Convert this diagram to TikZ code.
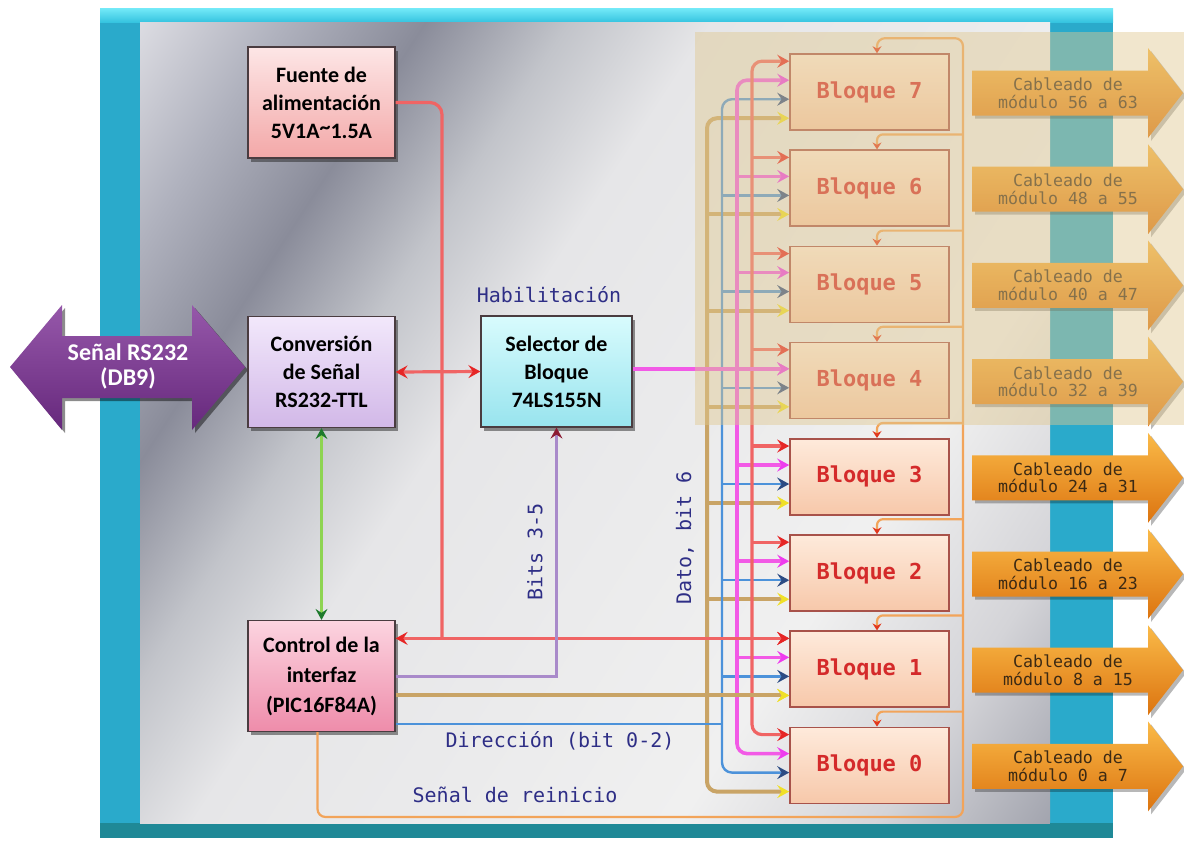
\documentclass[tikz,border=0pt]{standalone}
\usepackage{fontspec}
\setmainfont{Carlito}
\newfontfamily\codefont{DejaVu Sans Mono}
\usetikzlibrary{arrows.meta,calc,shadows}

% frame and panel
\definecolor{frameBlue}{HTML}{2AAACB}
\definecolor{frameTopA}{HTML}{74EAF8}
\definecolor{frameTopB}{HTML}{36C4E0}
\definecolor{frameLow}{HTML}{1F8997}
\definecolor{pnlA}{HTML}{DCDCE2}
\definecolor{pnlB}{HTML}{B0B2BE}
\definecolor{pnlC}{HTML}{8A8C9A}
\definecolor{pnlD}{HTML}{C2C4CA}
\definecolor{pnlE}{HTML}{E6E6E8}
\definecolor{pnlF}{HTML}{F0F0F0}
\definecolor{pnlG}{HTML}{D4D4D8}
\definecolor{pnlH}{HTML}{A2A4AE}
\definecolor{veil}{HTML}{E0C890}
% boxes
\definecolor{edgeDark}{HTML}{4A3C40}
\definecolor{fuA}{HTML}{FDE6E6}
\definecolor{fuB}{HTML}{F3A8A8}
\definecolor{cvA}{HTML}{F2E8FB}
\definecolor{cvB}{HTML}{D2B8E8}
\definecolor{slA}{HTML}{D8FBFD}
\definecolor{slB}{HTML}{98E4EE}
\definecolor{ctA}{HTML}{FCD4E0}
\definecolor{ctB}{HTML}{EE8CAA}
\definecolor{rsA}{HTML}{9658AA}
\definecolor{rsB}{HTML}{66287C}
\definecolor{blkA}{HTML}{FEEADB}
\definecolor{blkB}{HTML}{F7C8AA}
\definecolor{blkEdge}{HTML}{A8524A}
\definecolor{blkInk}{HTML}{D42A2A}
\definecolor{cabA}{HTML}{FABA48}
\definecolor{cabM}{HTML}{F49420}
\definecolor{cabB}{HTML}{DC7410}
\definecolor{cabInk}{HTML}{3C2A14}
\definecolor{lblInk}{HTML}{2E2E86}
% wires and heads
\definecolor{wRed}{HTML}{F06464}
\definecolor{hRed}{HTML}{E62626}
\definecolor{wPink}{HTML}{F25AE6}
\definecolor{hPink}{HTML}{EE3CEE}
\definecolor{wBlue}{HTML}{4C92DA}
\definecolor{hBlue}{HTML}{2C4C84}
\definecolor{wTan}{HTML}{C9A466}
\definecolor{hYel}{HTML}{F0E028}
\definecolor{wPur}{HTML}{A98ACA}
\definecolor{hPur}{HTML}{8C1C34}
\definecolor{wGrn}{HTML}{8ED452}
\definecolor{hGrn}{HTML}{1E7A2C}
\definecolor{wOrg}{HTML}{F2A45A}
\definecolor{hOrg}{HTML}{E2381E}

\pgfdeclarehorizontalshading{panelshade}{100bp}{%
  color(0bp)=(pnlA); color(25bp)=(pnlA); color(30bp)=(pnlB); color(35bp)=(pnlC);
  color(40bp)=(pnlD); color(45bp)=(pnlE); color(62bp)=(pnlF); color(69bp)=(pnlG);
  color(75bp)=(pnlH); color(100bp)=(pnlH)}

\tikzset{
  headR/.tip={Stealth[length=6pt,width=6.5pt,inset=2.2pt,color=hRed]},
  headP/.tip={Stealth[length=6pt,width=6.5pt,inset=2.2pt,color=hPink]},
  headB/.tip={Stealth[length=6pt,width=6.5pt,inset=2.2pt,color=hBlue]},
  headY/.tip={Stealth[length=6pt,width=6.5pt,inset=2.2pt,color=hYel]},
  headV/.tip={Stealth[length=5.5pt,width=6pt,inset=2pt,color=hPur]},
  headG/.tip={Stealth[length=5.5pt,width=6pt,inset=2pt,color=hGrn]},
  headO/.tip={Stealth[length=3.5pt,width=4.5pt,inset=1.2pt,color=hOrg]},
  wireR/.style={draw=wRed,line width=1.6pt},
  wireP/.style={draw=wPink,line width=1.8pt},
  wireB/.style={draw=wBlue,line width=1.2pt},
  wireY/.style={draw=wTan,line width=2pt},
  wireV/.style={draw=wPur,line width=1.5pt},
  wireG/.style={draw=wGrn,line width=1.2pt},
  wireO/.style={draw=wOrg,line width=1.1pt},
  mainbox/.style={draw=edgeDark,line width=0.6pt,minimum width=73.5pt,
    minimum height=55.5pt,align=center,inner sep=0pt,
    font=\bfseries\fontsize{11}{14}\selectfont,
    drop shadow={shadow xshift=1.6pt,shadow yshift=-1.8pt,opacity=.5,fill=black!85}},
  blockbox/.style={draw=blkEdge,line width=0.8pt,minimum width=79.5pt,
    minimum height=38pt,inner sep=0pt,top color=blkA,bottom color=blkB,
    text=blkInk,font=\codefont\bfseries\fontsize{11}{13}\selectfont},
  cabtext/.style={align=center,inner sep=0pt,text=cabInk,
    font=\codefont\fontsize{8.3}{8.8}\selectfont},
  lbl/.style={inner sep=0pt,text=lblInk,font=\codefont\fontsize{10}{12}\selectfont},
}

\begin{document}
\begin{tikzpicture}[x=0.5pt,y=-0.5pt]
\useasboundingbox (0,0) rectangle (1184,842);

% outer bevelled frame
\fill[frameBlue] (100,8) rectangle (1113,838);
\shade[top color=frameTopA,bottom color=frameTopB] (100,8) rectangle (1113,22);
\fill[frameLow] (100,823) rectangle (1113,838);

% brushed metal panel
\begin{scope}
  \clip (140,22) rectangle (1050,823);
  \begin{scope}[transform canvas={rotate around={-33:(595,422.5)}}]
    \shade[shading=panelshade] (-5,-277.5) rectangle (1195,1122.5);
  \end{scope}
\end{scope}

% serial port double arrow
\shade[top color=rsA,bottom color=rsB,
  drop shadow={shadow xshift=1.5pt,shadow yshift=-1.5pt,opacity=.45,fill=black}]
  (10,367) -- (62,305) -- (62,336) -- (192,336) -- (192,305) -- (245,367)
  -- (192,430) -- (192,398) -- (62,398) -- (62,430) -- cycle;
\node[inner sep=0pt,align=center,text=white,font=\bfseries\fontsize{12}{12.5}\selectfont]
  (rs) at (128,366) {Señal RS232\\(DB9)};

% main functional boxes
\node[mainbox,top color=fuA,bottom color=fuB] (fu) at (321.5,102.5)
  {Fuente de\\alimentación\\5V1A\raisebox{0.35ex}{\textasciitilde}1.5A};
\node[mainbox,top color=cvA,bottom color=cvB] (conv) at (321.5,372)
  {Conversión\\de Señal\\RS232-TTL};
\node[mainbox,top color=slA,bottom color=slB,minimum width=75.5pt] (sel) at (556.5,371.5)
  {Selector de\\Bloque\\74LS155N};
\node[mainbox,top color=ctA,bottom color=ctB,font=\bfseries\fontsize{11}{15}\selectfont]
  (ctrl) at (321.5,676) {Control de la\\interfaz\\(PIC16F84A)};

% memory blocks and their input points
\foreach \i in {0,...,7}{
  \pgfmathsetmacro\cy{92+(7-\i)*96.2}
  \node[blockbox] (b\i) at (869.5,\cy) {Bloque \i};
  \coordinate (r\i) at ($(b\i.north west)+(0,8)$);
  \coordinate (p\i) at ($(b\i.north west)+(0,27)$);
  \coordinate (q\i) at ($(b\i.north west)+(0,46)$);
  \coordinate (y\i) at ($(b\i.north west)+(0,65)$);
  \coordinate (t\i) at ($(b\i.north)+(7.5,0)$);
  \coordinate (u\i) at ($(t\i)+(0,-15)$);
}

% bus columns
\coordinate (busY) at (707,0);
\coordinate (busB) at (722,0);
\coordinate (busP) at (737,0);
\coordinate (busR) at (752,0);
\coordinate (pwr) at (442,0);
\coordinate (rsx) at (963,0);

% data bit 6 bus
\draw[wireY,{headY}-{headY},rounded corners=5pt] (y7) -- (busY |- y7) -- (busY |- y0) -- (y0);
\foreach \i in {1,...,6} \draw[wireY,-{headY}] (busY |- y\i) -- (y\i);
% address bus
\draw[wireB,{headB}-{headB},rounded corners=5pt] (q7) -- (busB |- q7) -- (busB |- q0) -- (q0);
\foreach \i in {1,...,6} \draw[wireB,-{headB}] (busB |- q\i) -- (q\i);
% enable bus
\draw[wireP,{headP}-{headP},rounded corners=5pt] (p7) -- (busP |- p7) -- (busP |- p0) -- (p0);
\foreach \i in {1,...,6} \draw[wireP,-{headP}] (busP |- p\i) -- (p\i);
% power bus
\draw[wireR,{headR}-{headR},rounded corners=5pt] (r7) -- (busR |- r7) -- (busR |- r0) -- (r0);
\foreach \i in {1,...,6} \draw[wireR,-{headR}] (busR |- r\i) -- (r\i);

% feeds from the controller, the selector and the supply
\coordinate (dirA) at ($(ctrl.east)+(0,48)$);
\draw[wireR,rounded corners=6pt] (fu.east) -| (pwr |- r1);
\draw[wireR,{headR}-{headR}] (ctrl.east |- r1) -- (r1);
\draw[wireV,-{headV}] (ctrl.east) -| (sel.south);
\draw[wireY,-{headY}] (ctrl.east |- y1) -- (y1);
\draw[wireB] (dirA) -- (busB |- dirA);
\draw[wireP,-{headP}] (sel.east |- p4) -- (p4);
\draw[wireR,{headR}-{headR}] (conv.east) -- (sel.west);
\draw[wireG,{headG}-{headG}] (conv.south) -- (ctrl.north);

% reset line
\coordinate (rsb) at ($(ctrl.south)+(-4,0)$);
\coordinate (rsl) at (0,817);
\draw[wireO,rounded corners=4pt,-{headO}] (rsb) |- (rsx |- rsl) -- (rsx |- u7) -- (u7) -- (t7);
\foreach \i in {0,...,6}
  \draw[wireO,rounded corners=3pt,-{headO}] (rsx |- u\i) -- (u\i) -- (t\i);

% module wiring arrows
\foreach \i/\lo/\hi in {0/0/7,1/8/15,2/16/23,3/24/31,4/32/39,5/40/47,6/48/55,7/56/63}{
  \pgfmathsetmacro\ay{93+(7-\i)*96.2}
  \fill[black,opacity=.28] (975,{\ay-19.5}) -- (1151,{\ay-19.5}) -- (1151,{\ay-42})
    -- (1186,{\ay+3}) -- (1151,{\ay+48}) -- (1151,{\ay+25.5}) -- (975,{\ay+25.5}) -- cycle;
  \shade[top color=cabA,middle color=cabM,bottom color=cabB]
    (972,{\ay-22.5}) -- (1148,{\ay-22.5}) -- (1148,{\ay-45}) -- (1183,\ay)
    -- (1148,{\ay+45}) -- (1148,{\ay+22.5}) -- (972,{\ay+22.5}) -- cycle;
  \node[cabtext] (cab\i) at (1068,\ay) {Cableado de\\módulo \lo{} a \hi};
}

% signal labels
\node[lbl] (habl) at (549,295) {Habilitación};
\node[lbl,rotate=90] (bitl) at (535,552) {Bits 3-5};
\node[lbl,rotate=90] (datl) at (685,538) {Dato, bit 6};
\node[lbl] (dirl) at (560,741) {Dirección (bit 0-2)};
\node[lbl] (rstl) at (515,795) {Señal de reinicio};

% translucent highlight over the upper four blocks
\fill[veil,fill opacity=.45] (695,32) rectangle (1184,425);
\end{tikzpicture}
\end{document}
